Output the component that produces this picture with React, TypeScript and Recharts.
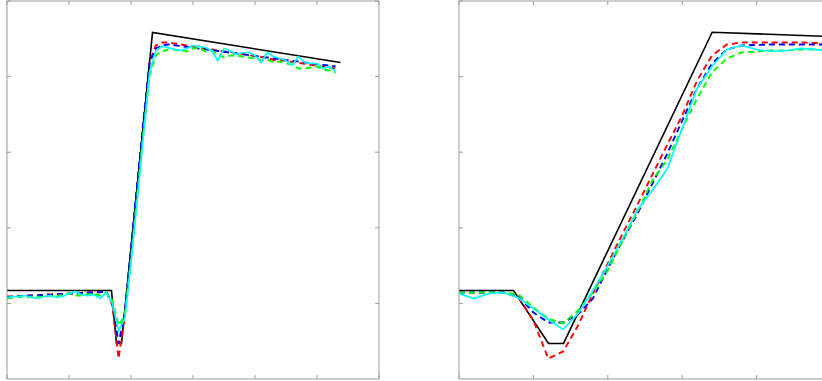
import React from 'react';
import { LineChart, Line, XAxis, YAxis } from 'recharts';

// ---------- Left panel ----------
const leftX = [0, 1, 2, 3, 4, 5, 6, 7, 8, 9, 10, 11, 12, 13, 14, 15, 16, 17, 18, 19, 20, 21, 22, 23, 24, 25, 26, 27, 28, 29, 30, 31, 32, 33, 34, 35, 36, 37, 38, 39, 40, 41, 42, 43, 44, 45, 46, 47, 48, 49, 50, 51, 52, 53];

const redL = [10.91, 10.91, 10.98, 11.04, 11.04, 11.04, 11.11, 11.18, 11.18, 11.24, 11.31, 11.31, 11.38, 11.44, 11.44, 11.51, 11.57,
  9.72, 2.71, 8.4, 17.0, 25.6, 34.2, 41.9, 44.11, 44.51,
  44.51, 44.38, 44.25, 44.11, 43.98, 43.85, 43.72, 43.58, 43.45, 43.32, 43.24, 43.11, 42.98, 42.86, 42.72, 42.6, 42.47, 42.2, 42.2, 42.08, 41.94, 41.83, 41.69, 41.56, 41.45, 41.32, 41.2, 41.07];

const blueL = [10.85, 10.9, 10.95, 11.0, 11.05, 11.08, 11.12, 11.16, 11.2, 11.24, 11.28, 11.32, 11.36, 11.4, 11.44, 11.48, 11.52,
  9.99, 4.68, 8.8, 17.26, 25.73, 34.06, 41.87, 43.72, 44.11,
  44.25, 44.15, 44.04, 43.93, 43.81, 43.7, 43.6, 43.49, 43.39, 43.29, 43.16, 43.06, 42.95, 42.84, 42.74, 42.63, 42.53, 42.41, 42.3, 42.2, 42.09, 41.99, 41.88, 41.78, 41.65, 41.55, 41.44, 41.34];

const greenL = [10.65, 10.78, 10.91, 10.78, 10.91, 10.91, 10.78, 11.04, 10.91, 11.18, 11.31, 11.04, 11.04, 11.18, 11.31, 11.04, 11.44,
  10.38, 7.08, 8.4, 15.9, 24.3, 32.6, 40.15, 42.79, 43.32,
  43.58, 43.58, 43.45, 43.32, 43.72, 43.85, 43.32, 43.45, 42.92, 42.53, 42.79, 42.79, 42.66, 42.53, 42.39, 42.13, 42.26, 41.87, 42.0, 41.73, 41.6, 41.07, 41.07, 41.2, 41.34, 40.94, 40.81, 40.54];

const cyanL = [10.78, 10.91, 10.91, 11.04, 10.78, 10.65, 10.91, 11.04, 10.78, 10.91, 11.31, 11.57, 11.18, 11.04, 11.18, 10.65, 11.44,
  9.99, 6.42, 8.0, 15.4, 23.6, 32.2, 40.54, 43.45, 43.98,
  43.85, 43.58, 43.45, 43.72, 44.11, 43.98, 43.85, 43.45, 42.13, 43.72, 43.45, 42.92, 43.19, 43.19, 42.79, 41.87, 43.19, 42.66, 42.39, 42.13, 41.47, 42.66, 41.87, 41.73, 41.73, 41.07, 41.34, 40.67];

const blackLX = [0, 16.85, 17.66, 18.47, 23.47, 53.79];
const blackLY = [11.71, 11.71, 4.7, 4.7, 45.83, 41.87];

// ---------- Right panel ----------
const rightX = [0, 2, 4, 6, 8, 10, 12, 14, 16, 18, 20, 22, 24, 26, 28, 30, 32, 34, 36, 38, 40, 42, 44, 46, 48, 50];

const redR = [11.44, 11.44, 11.44, 11.44, 10.78, 7.74, 2.71, 3.64, 7.08, 11.31, 15.28, 19.25, 23.08, 27.05, 31.02, 34.85, 39.48, 42.79, 44.25, 44.51, 44.51, 44.51, 44.51, 44.51, 44.44, 44.44];
const blueR = [11.44, 11.44, 11.44, 11.44, 10.91, 8.8, 7.47, 7.47, 8.53, 10.65, 14.62, 18.32, 21.89, 25.86, 29.83, 34.19, 38.43, 41.73, 43.58, 44.11, 44.18, 44.25, 44.25, 44.25, 44.25, 44.25];
const greenR = [11.44, 11.44, 11.44, 11.44, 11.18, 9.46, 7.99, 7.34, 9.06, 11.44, 14.35, 18.32, 22.16, 26.26, 29.03, 33.13, 37.1, 40.54, 42.39, 43.19, 43.32, 43.45, 43.45, 43.58, 43.58, 43.45];
const cyanR = [11.31, 10.65, 11.31, 11.44, 10.71, 9.33, 7.87, 6.55, 8.66, 11.71, 15.01, 18.58, 22.42, 24.93, 27.84, 33.13, 38.43, 41.34, 43.58, 44.11, 43.58, 43.32, 43.45, 43.72, 43.58, 43.32];

const blackRX = [0, 7.33, 12.03, 14.05, 34.03, 50];
const blackRY = [11.71, 11.71, 4.7, 4.7, 45.87, 45.3];

// ---------- Axis ticks ----------
const yTicks = [0, 10, 20, 30, 40, 50];
const leftTicks = [0, 10, 20, 30, 40, 50, 60];
const rightTicks = [0, 10, 20, 30, 40, 50];

const leftData = leftX.map((x, i) => ({ x, red: redL[i], blue: blueL[i], green: greenL[i], cyan: cyanL[i] }));
const rightData = rightX.map((x, i) => ({ x, red: redR[i], blue: blueR[i], green: greenR[i], cyan: cyanR[i] }));
const blackL = blackLX.map((x, i) => ({ x, y: blackLY[i] }));
const blackR = blackRX.map((x, i) => ({ x, y: blackRY[i] }));

const AXIS = '#9c9c9c';
const NoLabel = () => null;

function Panel(props: { data: any[]; black: any[]; xDomain: number[]; xTicks: number[]; left: number }) {
  const { data, black, xDomain, xTicks, left } = props;
  return (
    <div style={{ position: 'absolute', left, top: -1.5 }}>
      <LineChart width={381} height={382} data={data} margin={{ top: 2, right: 2, bottom: 2, left: 7 }}>
        <XAxis xAxisId="b" dataKey="x" type="number" domain={xDomain} ticks={xTicks} tick={NoLabel} mirror tickSize={4} height={1} stroke={AXIS} allowDataOverflow />
        <XAxis xAxisId="t" orientation="top" dataKey="x" type="number" domain={xDomain} ticks={xTicks} tick={NoLabel} mirror tickSize={4} height={1} stroke={AXIS} allowDataOverflow />
        <YAxis yAxisId="l" type="number" domain={[0, 50]} ticks={yTicks} tick={NoLabel} mirror tickSize={4} width={1} stroke={AXIS} allowDataOverflow />
        <YAxis yAxisId="r" orientation="right" type="number" domain={[0, 50]} ticks={yTicks} tick={NoLabel} mirror tickSize={4} width={1} stroke={AXIS} allowDataOverflow />
        <Line xAxisId="b" yAxisId="l" data={black} dataKey="y" type="linear" stroke="#000000" strokeWidth={1.6} dot={false} isAnimationActive={false} />
        <Line xAxisId="b" yAxisId="l" dataKey="red" type="linear" stroke="#ff0000" strokeWidth={1.9} strokeDasharray="6 4" dot={false} isAnimationActive={false} />
        <Line xAxisId="b" yAxisId="l" dataKey="blue" type="linear" stroke="#0000ff" strokeWidth={1.9} strokeDasharray="6 4" dot={false} isAnimationActive={false} />
        <Line xAxisId="b" yAxisId="l" dataKey="green" type="linear" stroke="#00ff00" strokeWidth={1.9} strokeDasharray="6 4" dot={false} isAnimationActive={false} />
        <Line xAxisId="b" yAxisId="l" dataKey="cyan" type="linear" stroke="#00ffff" strokeWidth={1.7} dot={false} isAnimationActive={false} />
      </LineChart>
    </div>
  );
}

export default function App() {
  return (
    <div style={{ position: 'fixed', left: 0, top: 0, width: 822, height: 381, overflow: 'hidden', background: '#ffffff' }}>
      <Panel data={leftData} black={blackL} xDomain={[0, 60]} xTicks={leftTicks} left={-0.5} />
      <Panel data={rightData} black={blackR} xDomain={[0, 50]} xTicks={rightTicks} left={451.5} />
    </div>
  );
}
